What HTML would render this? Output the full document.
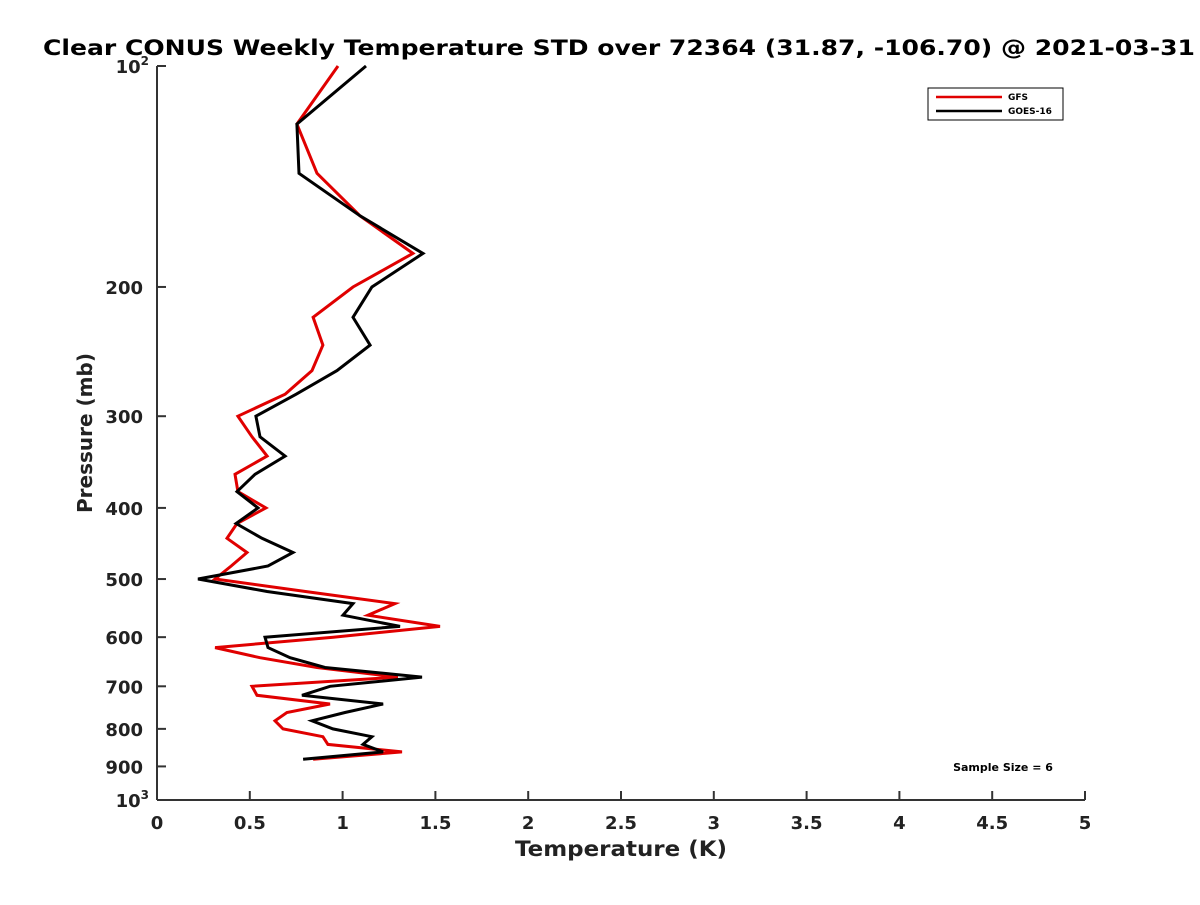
<!DOCTYPE html>
<html><head><meta charset="utf-8"><style>
body{margin:0;background:#fff;}
text{font-family:"DejaVu Sans","Liberation Sans",sans-serif;}
</style></head><body>
<svg id="chart" width="1200" height="900" xmlns="http://www.w3.org/2000/svg">
<text x="43" y="55" textLength="1152" lengthAdjust="spacingAndGlyphs" font-size="21" font-weight="bold" fill="#000">Clear CONUS Weekly Temperature STD over 72364 (31.87, -106.70) @ 2021-03-31</text>
<g id="axes"></g>
<g id="series"></g>
<g>
<rect x="928" y="88" width="135" height="32" fill="#fff" stroke="#000" stroke-width="1"/>
<line x1="936" y1="97" x2="1002" y2="97" stroke="#e00000" stroke-width="2.5"/>
<text x="1008" y="100" font-size="9" font-weight="bold">GFS</text>
<line x1="936" y1="111" x2="1002" y2="111" stroke="#000" stroke-width="2.5"/>
<text x="1008" y="114" font-size="9" font-weight="bold">GOES-16</text>
</g>
<text x="1003" y="771" text-anchor="middle" font-size="11" font-weight="bold">Sample Size = 6</text>
<text x="515" y="856" textLength="212" lengthAdjust="spacingAndGlyphs" font-size="21" font-weight="bold" fill="#222">Temperature (K)</text>
<text transform="translate(92,433) rotate(-90)" text-anchor="middle" font-size="20" font-weight="bold" fill="#222">Pressure (mb)</text>
</svg>
<script>
const levels=[100,120,140,160,180,200,220,240,260,280,300,320,340,360,380,400,420,440,460,480,500,520,540,560,580,600,620,640,660,680,700,720,740,760,780,800,820,840,860,880];
const gfs=[0.975,0.754,0.862,1.094,1.379,1.056,0.841,0.894,0.835,0.690,0.436,0.512,0.593,0.420,0.436,0.587,0.431,0.377,0.485,0.40,0.313,0.80,1.282,1.137,1.525,0.95,0.313,0.555,0.862,1.298,0.512,0.539,0.932,0.700,0.636,0.679,0.894,0.921,1.320,0.841];
const goes=[1.126,0.754,0.765,1.094,1.433,1.158,1.056,1.148,0.970,0.75,0.533,0.555,0.690,0.528,0.431,0.544,0.426,0.566,0.733,0.598,0.221,0.593,1.056,1.002,1.309,0.582,0.598,0.717,0.905,1.428,0.932,0.781,1.218,1.013,0.835,0.948,1.158,1.110,1.218,0.787];
const xTicks=[0,0.5,1,1.5,2,2.5,3,3.5,4,4.5,5];
const yTicks=[100,200,300,400,500,600,700,800,900,1000];
const NS="http://www.w3.org/2000/svg";
const X0=157,X1=1085,Y0=66,Y1=800;
function xs(v){return X0+(v/5)*(X1-X0);}
function ys(p){return Y0+Math.log10(p/100)*(Y1-Y0);}
function mk(t,a,parent){const e=document.createElementNS(NS,t);for(const k in a)e.setAttribute(k,a[k]);parent.appendChild(e);return e;}
const ax=document.getElementById('axes');
let l=mk('line',{x1:X0,y1:Y0,x2:X0,y2:Y1,stroke:'#333','stroke-width':2},ax);


l=mk('line',{x1:X0,y1:Y1,x2:X1,y2:Y1,stroke:'#333','stroke-width':2},ax);


xTicks.forEach(v=>{
 mk('line',{x1:xs(v),y1:Y1,x2:xs(v),y2:Y1-9,stroke:'#333','stroke-width':2},ax);
 const t=mk('text',{x:xs(v),y:Y1+29,'text-anchor':'middle','font-size':18,'font-weight':'bold',fill:'#222'},ax);
 t.textContent=String(v);
 
 
});
yTicks.forEach(p=>{
 mk('line',{x1:X0,y1:ys(p),x2:X0+9,y2:ys(p),stroke:'#333','stroke-width':2},ax);
 const t=mk('text',{x:X0-14,y:ys(p)+7,'text-anchor':'end','font-size':18,'font-weight':'bold',fill:'#222'},ax);
 
 
 if(p===100||p===1000){
  t.textContent='10';
  const s=mk('tspan',{dy:-8,'font-size':12},t);
  s.textContent=p===100?'2':'3';
  t.setAttribute('x',X0-8);
 } else t.textContent=String(p);
});
const sg=document.getElementById('series');
function line(vals,color,name){
 const d=vals.map((v,i)=>(i?'L':'M')+xs(v).toFixed(1)+','+ys(levels[i]).toFixed(1)).join(' ');
 const p=mk('path',{d:d,fill:'none',stroke:color,'stroke-width':3,'stroke-linejoin':'miter'},sg);
 
 
}
line(gfs,'#e00000','gfs-line');
line(goes,'#000','goes16-line');
</script>
</body></html>
